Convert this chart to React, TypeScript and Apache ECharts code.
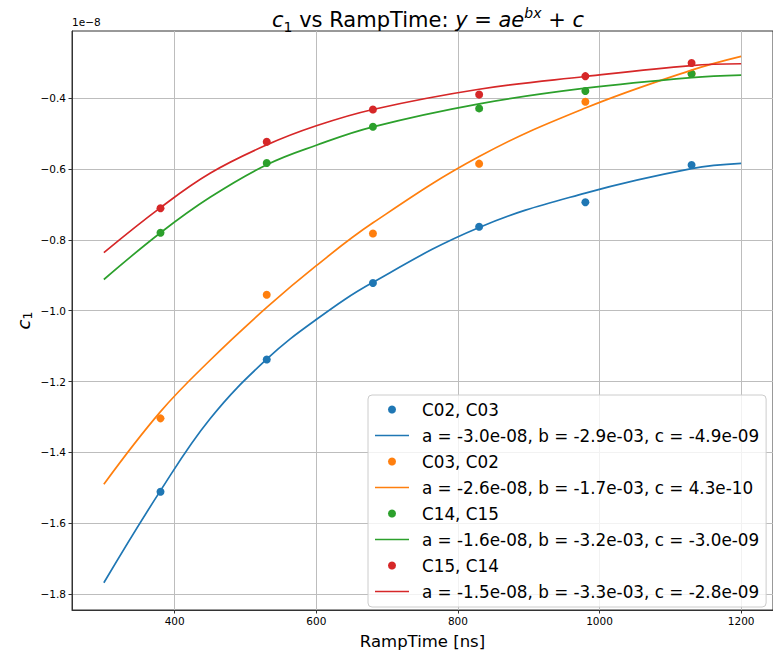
import React, { useEffect, useRef } from "react";
import * as echarts from "echarts";

// RampTime values of the measured points [ns]
const rampTimes = [380, 530, 680, 830, 980, 1130];
// measured c1 values (units of 1e-8)
const c02c03 = [-1.511, -1.138, -0.922, -0.763, -0.694, -0.589];
const c03c02 = [-1.304, -0.955, -0.782, -0.585, -0.41, -0.331];
const c14c15 = [-0.78, -0.583, -0.481, -0.429, -0.38, -0.331];
const c15c14 = [-0.711, -0.523, -0.432, -0.39, -0.338, -0.301];

// fitted curves (units of 1e-8)
const fitX = [300, 380, 450, 530, 600, 680, 830, 980, 1130, 1200];
const fitC02C03 = [-1.768, -1.508, -1.305, -1.137, -1.025, -0.92, -0.765, -0.668, -0.599, -0.584];
const fitC03C02 = [-1.49, -1.285, -1.14, -0.991, -0.873, -0.752, -0.565, -0.428, -0.321, -0.282];
const fitC14C15 = [-0.912, -0.78, -0.68, -0.588, -0.533, -0.481, -0.416, -0.372, -0.342, -0.335];
const fitC15C14 = [-0.836, -0.709, -0.612, -0.532, -0.478, -0.432, -0.375, -0.339, -0.308, -0.303];

const scatterNames = ["C02, C03", "C03, C02", "C14, C15", "C15, C14"];
const fitNames = [
  "a = -3.0e-08, b = -2.9e-03, c = -4.9e-09",
  "a = -2.6e-08, b = -1.7e-03, c = 4.3e-10",
  "a = -1.6e-08, b = -3.2e-03, c = -3.0e-09",
  "a = -1.5e-08, b = -3.3e-03, c = -2.8e-09",
];
const colors = ["#1f77b4", "#ff7f0e", "#2ca02c", "#d62728"];

const xTicks = [400, 600, 800, 1000, 1200];
const yTicks = [-1.8, -1.6, -1.4, -1.2, -1.0, -0.8, -0.6, -0.4];

const FONT = "DejaVu Sans";
const LINE_ICON = "path://M0,0H34V1.7H0Z";

export default function App() {
  const ref = useRef<HTMLDivElement>(null);
  useEffect(() => {
    if (!ref.current) return;
    const chart = echarts.init(ref.current, null, { renderer: "svg" });
    const scatterData = [c02c03, c03c02, c14c15, c15c14];
    const fitData = [fitC02C03, fitC03C02, fitC14C15, fitC15C14];
    const series: any[] = [];
    const legendData: any[] = [];
    for (let k = 0; k < 4; k++) {
      series.push({
        type: "scatter",
        name: scatterNames[k],
        data: rampTimes.map((x, i) => [x, scatterData[k][i]]),
        symbol: "circle",
        symbolSize: 8,
        itemStyle: { color: colors[k], opacity: 1 },
        z: 2,
      });
      series.push({
        type: "line",
        name: fitNames[k],
        data: fitX.map((x, i) => [x, fitData[k][i]]),
        smooth: 0.4,
        symbol: "none",
        showSymbol: false,
        lineStyle: { color: colors[k], width: 1.7 },
        itemStyle: { color: colors[k] },
        z: 3,
      });
      legendData.push({ name: scatterNames[k], icon: "circle", itemStyle: { color: colors[k], opacity: 1 } });
      legendData.push({ name: fitNames[k], icon: LINE_ICON, itemStyle: { color: colors[k], opacity: 1 } });
    }
    const rich = {
      n: { fontSize: 21, fontFamily: FONT, color: "#000", lineHeight: 28 },
      i: { fontSize: 21, fontFamily: FONT, fontStyle: "italic", color: "#000", lineHeight: 28 },
      s: { fontSize: 14, fontFamily: FONT, color: "#000", lineHeight: 14, verticalAlign: "bottom" },
      p: { fontSize: 14, fontFamily: FONT, fontStyle: "italic", color: "#000", lineHeight: 14, verticalAlign: "top" },
    };
    const yRich = {
      i: { fontSize: 18, fontFamily: FONT, fontStyle: "italic", color: "#000", lineHeight: 22 },
      s: { fontSize: 12.5, fontFamily: FONT, color: "#000", lineHeight: 12, verticalAlign: "bottom" },
    };
    chart.setOption({
      animation: false,
      title: {
        text: "{i|c}{s|1}{n| vs RampTime: }{i|y}{n| = }{i|ae}{p|bx}{n| + }{i|c}",
        left: 423,
        top: 1,
        textAlign: "center",
        textStyle: { rich, fontSize: 21, fontFamily: FONT, color: "#000", fontWeight: "normal" },
      },
      grid: {
        left: 72,
        top: 31,
        width: 703,
        height: 584,
        show: true,
        borderColor: "#333",
        borderWidth: 1,
        containLabel: false,
      },
      legend: {
        orient: "vertical",
        left: 368,
        top: 395,
        data: legendData,
        padding: [6, 7, 7, 7],
        itemWidth: 34,
        itemHeight: 8,
        itemGap: 9,
        selectedMode: false,
        backgroundColor: "rgba(255,255,255,0.8)",
        borderColor: "#cccccc",
        borderWidth: 1,
        borderRadius: 4,
        textStyle: { fontSize: 16.8, fontFamily: FONT, color: "#000", padding: [0, 0, 0, 8] },
      },
      xAxis: {
        type: "value",
        min: 255,
        max: 1245,
        name: "RampTime [ns]",
        nameLocation: "middle",
        nameGap: 23,
        nameMoveOverlap: false,
        nameTextStyle: { fontSize: 16.5, fontFamily: FONT, color: "#000" },
        axisLine: { show: true, onZero: false, lineStyle: { color: "#333", width: 1 } },
        axisTick: { show: true, length: 3.5, customValues: xTicks, lineStyle: { color: "#333" } },
        axisLabel: {
          customValues: xTicks,
          fontSize: 10.5,
          fontFamily: FONT,
          color: "#000",
          margin: 5,
          formatter: (v: number) => String(v),
        },
        splitLine: { show: true, lineStyle: { color: "#bdbdbd", width: 1 } },
      },
      yAxis: {
        type: "value",
        min: -1.845,
        max: -0.2105,
        name: "{i|c}{s|1}",
        nameLocation: "middle",
        nameRotate: 90,
        nameGap: 38,
        nameMoveOverlap: false,
        nameTextStyle: { rich: yRich },
        axisLine: { show: true, onZero: false, lineStyle: { color: "#333", width: 1 } },
        axisTick: { show: true, length: 3.5, customValues: yTicks, lineStyle: { color: "#333" } },
        axisLabel: {
          customValues: yTicks,
          fontSize: 10.5,
          fontFamily: FONT,
          color: "#000",
          margin: 6,
          formatter: (v: number) => v.toFixed(1).replace("-", "\u2212"),
        },
        splitLine: { show: true, lineStyle: { color: "#bdbdbd", width: 1 } },
      },
      graphic: [
        {
          type: "text",
          left: 72,
          top: 16,
          style: { text: "1e\u22128", fontSize: 10.5, fontFamily: FONT, fill: "#000" },
        },
      ],
      series,
    });
    return () => chart.dispose();
  }, []);
  return (
    <div
      ref={ref}
      style={{ position: "fixed", left: 0, top: 0, width: 773, height: 655, background: "#fff" }}
    />
  );
}
